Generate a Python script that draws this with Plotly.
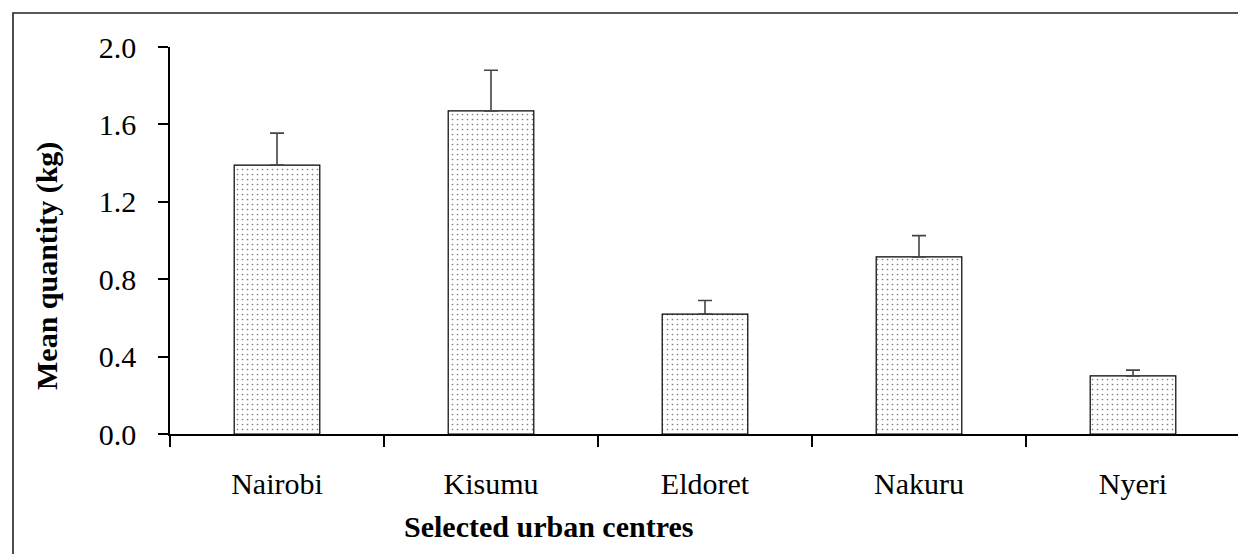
import plotly.graph_objects as go

# Mean quantity per urban centre with upper standard-error bars
centres = ["Nairobi", "Kisumu", "Eldoret", "Nakuru", "Nyeri"]
mean_kg = [1.39, 1.67, 0.62, 0.915, 0.30]
se_kg = [0.165, 0.21, 0.07, 0.11, 0.03]
y_ticks = [0.0, 0.4, 0.8, 1.2, 1.6, 2.0]
y_tick_text = ["0.0", "0.4", "0.8", "1.2", "1.6", "2.0"]

W, H = 1238, 554
L, R, T, B = 170, 0, 47, 120
plot_w = W - L - R
plot_h = H - T - B
cat_px = 214.0  # pixel width of one category slot

SERIF = "Liberation Serif, Times New Roman, serif"


def px_x(px):
    return (px - L) / plot_w


def px_y(py):
    return (H - B - py) / plot_h


fig = go.Figure(
    go.Bar(
        x=centres,
        y=mean_kg,
        width=0.40,
        marker=dict(
            color="white",
            line=dict(color="black", width=1.2),
            pattern=dict(shape=".", fgcolor="black", bgcolor="white",
                         size=5, solidity=0.09),
        ),
        error_y=dict(type="data", array=se_kg, symmetric=False,
                     arrayminus=[0] * len(se_kg),
                     color="#444444", thickness=1.6, width=7),
    )
)

fig.update_layout(
    width=W,
    height=H,
    margin=dict(l=L, r=R, t=T, b=B, pad=0),
    paper_bgcolor="white",
    plot_bgcolor="white",
    showlegend=False,
    font=dict(family=SERIF, size=30, color="black"),
    xaxis=dict(
        type="category",
        range=[-0.5, -0.5 + plot_w / cat_px],
        showline=True, linecolor="black", linewidth=1.5,
        ticks="outside", tickson="boundaries", ticklen=11,
        tickwidth=1.5, tickcolor="black",
        showgrid=False, zeroline=False,
        ticklabelstandoff=22,
        tickfont=dict(family=SERIF, size=30),
    ),
    yaxis=dict(
        range=[0, 2.0],
        tickvals=y_ticks, ticktext=y_tick_text,
        showline=True, linecolor="black", linewidth=1.5,
        ticks="outside", ticklen=10, tickwidth=1.5, tickcolor="black",
        showgrid=False, zeroline=False,
        ticklabelstandoff=16,
        tickfont=dict(family=SERIF, size=30),
    ),
    annotations=[
        dict(text="<b>Selected urban centres</b>", xref="paper", yref="paper",
             x=px_x(548), y=px_y(526), xanchor="center", yanchor="middle",
             showarrow=False, font=dict(family=SERIF, size=30)),
        dict(text="<b>Mean quantity (kg)</b>", xref="paper", yref="paper",
             x=px_x(47), y=px_y(266), xanchor="center", yanchor="middle",
             textangle=-90, showarrow=False,
             font=dict(family=SERIF, size=30)),
    ],
    shapes=[
        dict(type="rect", xref="paper", yref="paper",
             x0=px_x(13), x1=px_x(W + 20), y0=px_y(H + 20), y1=px_y(13),
             line=dict(color="#222222", width=1.6), fillcolor="rgba(0,0,0,0)",
             layer="above"),
    ],
)

fig.write_html("out.html")
